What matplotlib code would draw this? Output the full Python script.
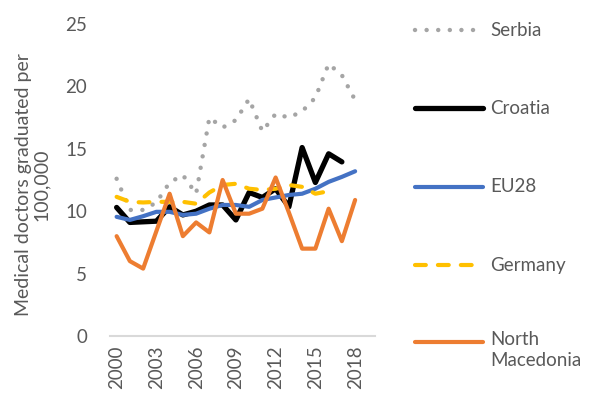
import numpy as np
import matplotlib
matplotlib.use("Agg")
import matplotlib.pyplot as plt
from matplotlib.lines import Line2D

years = list(range(2000, 2020))
tick_years = [2000, 2003, 2006, 2009, 2012, 2015, 2018]

serbia = [12.6, 10.1, 10.1, 10.7, 12.3, 12.9, 11.4, 17.5, 16.7, 17.3,
          19.0, 16.4, 17.8, 17.5, 18.0, 19.1, 21.8, 20.9, 18.9, None]
croatia = [10.3, 9.1, 9.15, 9.2, 10.35, 9.7, 10.0, 10.5, 10.5, 9.3,
           11.5, 11.1, 11.8, 10.35, 15.1, 12.3, 14.6, 13.95, None, None]
eu28 = [9.55, 9.3, 9.6, 9.95, 9.95, 9.7, 9.8, 10.2, 10.5, 10.5,
        10.35, 10.9, 11.1, 11.3, 11.4, 11.8, 12.35, 12.75, 13.2, None]
germany = [11.15, 10.75, 10.7, 10.75, 10.75, 10.75, 10.6, 11.5, 12.1, 12.2,
           11.8, 11.7, 11.8, 12.1, 11.95, 11.4, 11.6, None, None, None]
north_macedonia = [8.0, 6.0, 5.4, 8.4, 11.4, 8.0, 9.1, 8.3, 12.5, 9.8,
                   9.8, 10.2, 12.7, 9.9, 7.0, 7.0, 10.2, 7.6, 10.9, None]

names = ["Serbia", "Croatia", "EU28", "Germany", "North\nMacedonia"]
series = [serbia, croatia, eu28, germany, north_macedonia]
colors = ["#A5A5A5", "#000000", "#4472C4", "#FFC000", "#ED7D31"]
widths = [3.2, 3.8, 3.0, 3.0, 3.0]
styles = [(0, (0.01, 2.6)), "-", "-", (0, (2.6, 2.9)), "-"]

txt = "#595959"
plt.rcParams["font.family"] = ["Lato", "DejaVu Sans"]

fig = plt.figure(figsize=(6.02, 4.0), dpi=100)
ax = fig.add_axes([110 / 602, 64 / 400, 265 / 602, 312 / 400])

x = np.arange(len(years))
for vals, c, lw, ls in zip(series, colors, widths, styles):
    y = np.array([np.nan if v is None else v for v in vals], dtype=float)
    ax.plot(x, y, color=c, lw=lw, linestyle=ls,
            dash_capstyle="round", solid_capstyle="round", solid_joinstyle="round")

ax.set_xlim(-0.5, len(years) - 0.5)
ax.set_ylim(0, 25)
ax.set_yticks([0, 5, 10, 15, 20, 25])
ax.set_xticks([years.index(t) for t in tick_years])
ax.set_xticklabels([str(t) for t in tick_years], rotation=90)
ax.tick_params(axis="both", length=0, labelsize=13.5, colors=txt)
ax.tick_params(axis="y", pad=16.5)
ax.tick_params(axis="x", pad=7)
for s in ["top", "right", "left"]:
    ax.spines[s].set_visible(False)
ax.spines["bottom"].set_color("#D9D9D9")
ax.spines["bottom"].set_linewidth(1.5)
ax.set_ylabel("Medical doctors graduated per\n100,000", fontsize=14,
              color=txt, linespacing=1.05)
ax.yaxis.set_label_coords(-0.226, 0.484)

# legend drawn on the right
leg_y = [30, 108, 187, 265, 342]
for name, c, lw, ls, yy in zip(names, colors, widths, styles, leg_y):
    yf = 1 - yy / 400
    fig.add_artist(Line2D([415 / 602, 483 / 602], [yf, yf], color=c, lw=lw,
                          linestyle=ls, dash_capstyle="round",
                          solid_capstyle="round", transform=fig.transFigure))
    if "\n" in name:
        fig.text(490 / 602, yf + 11 / 400, name, fontsize=13.5, color=txt,
                 va="top", linespacing=1.3)
    else:
        fig.text(490 / 602, yf, name, fontsize=13.5, color=txt, va="center")

fig.savefig("out.png", dpi=100)
